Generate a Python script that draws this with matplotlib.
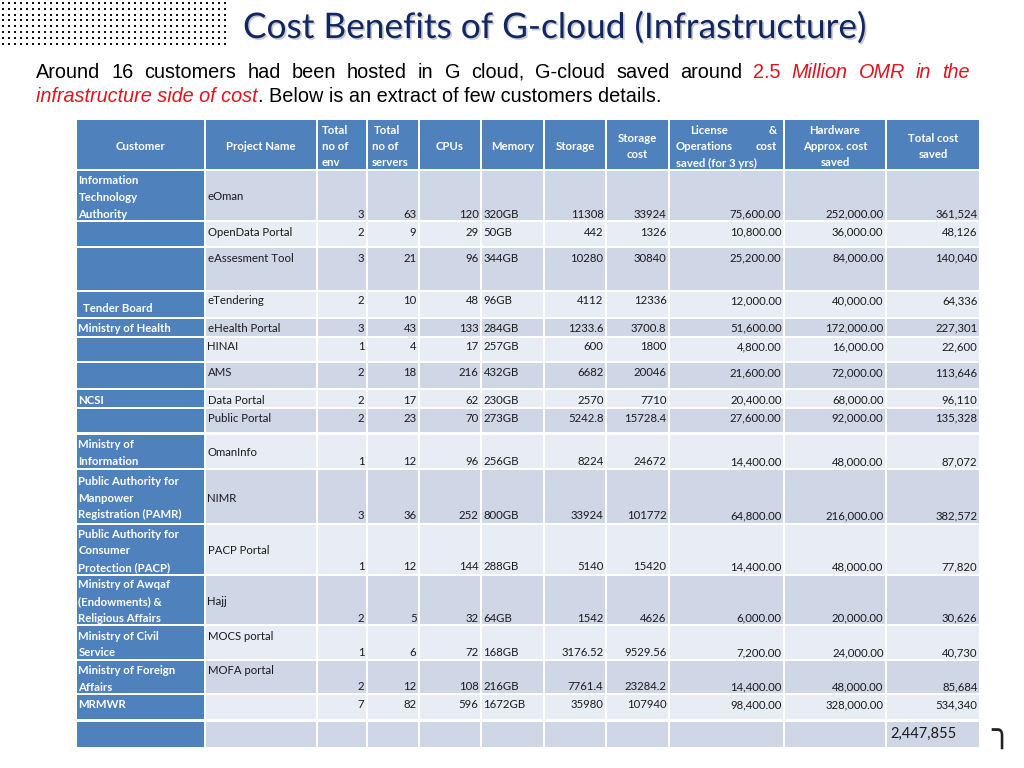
import numpy as np
import matplotlib
matplotlib.use("Agg")
import matplotlib.pyplot as plt
from matplotlib.patches import Rectangle
from matplotlib import patheffects, font_manager

# ---- table data ----
customers = ["Information\nTechnology\nAuthority", "", "", "Tender Board",
             "Ministry of Health", "", "", "NCSI", "",
             "Ministry of\nInformation",
             "Public Authority for\nManpower\nRegistration (PAMR)",
             "Public Authority for\nConsumer\nProtection (PACP)",
             "Ministry of Awqaf\n(Endowments) &\nReligious Affairs",
             "Ministry of Civil\nService",
             "Ministry of Foreign\nAffairs",
             "MRMWR"]
projects = ["eOman", "OpenData Portal", "eAssesment Tool", "eTendering",
            "eHealth Portal", "HINAI", "AMS", "Data Portal", "Public Portal",
            "OmanInfo", "NIMR", "PACP Portal", "Hajj", "MOCS portal",
            "MOFA portal", ""]
total_env = [3, 2, 3, 2, 3, 1, 2, 2, 2, 1, 3, 1, 2, 1, 2, 7]
total_servers = [63, 9, 21, 10, 43, 4, 18, 17, 23, 12, 36, 12, 5, 6, 12, 82]
cpus = [120, 29, 96, 48, 133, 17, 216, 62, 70, 96, 252, 144, 32, 72, 108, 596]
memory_gb = [320, 50, 344, 96, 284, 257, 432, 230, 273, 256, 800, 288, 64, 168, 216, 1672]
storage = [11308, 442, 10280, 4112, 1233.6, 600, 6682, 2570, 5242.8, 8224,
           33924, 5140, 1542, 3176.52, 7761.4, 35980]
storage_cost = [33924, 1326, 30840, 12336, 3700.8, 1800, 20046, 7710, 15728.4,
                24672, 101772, 15420, 4626, 9529.56, 23284.2, 107940]
license_saved = [75600, 10800, 25200, 12000, 51600, 4800, 21600, 20400, 27600,
                 14400, 64800, 14400, 6000, 7200, 14400, 98400]
hardware_saved = [252000, 36000, 84000, 40000, 172000, 16000, 72000, 68000,
                  92000, 48000, 216000, 48000, 20000, 24000, 48000, 328000]
total_saved = [361524, 48126, 140040, 64336, 227301, 22600, 113646, 96110,
               135328, 87072, 382572, 77820, 30626, 40730, 85684, 534340]

headers = ["Customer", "Project Name", "Total\nno of\nenv", "Total\nno of\nservers",
           "CPUs", "Memory", "Storage", "Storage\ncost",
           "License &\nOperations cost\nsaved (for 3 yrs)",
           "Hardware\nApprox. cost\nsaved", "Total cost\nsaved"]

title = "Cost Benefits of G-cloud (Infrastructure)"

# ---- layout (pixels) ----
BLUE = "#4F81BD"
DARK = "#CFD6E6"
LIGHT = "#E8ECF4"
TXT = "#1b1b1b"

col_l = [77, 206, 318, 368, 420, 482, 545, 607, 670, 785, 887]
col_r = [204, 316, 366, 418, 480, 543, 605, 668, 783, 885, 979]
hdr_box = (120, 169)
row_box = [(171, 220), (222, 246), (248, 290), (292, 317), (319, 336), (338, 361),
           (363, 388), (390, 407), (409, 432), (435, 468), (470, 523), (525, 574),
           (576, 624), (626, 659), (661, 693), (695, 719)]
total_box = (722, 747)
num_y = [214, 232, 258, 301, 328, 347, 373, 400, 418, 461.5, 515.5, 567, 618,
         652.5, 686.5, 705]
proj_y = [197, 232, 258, 301, 328, 347, 373, 400, 418, 453, 498, 550.5, 601.5,
          636, 670.5, 705]
cust_y = [181, 232, 258, 308.5, 328, 347, 373, 400, 418, 445, 481.5, 534, 585,
          636, 670.5, 705]
PITCH = 16.6

names = {f.name for f in font_manager.fontManager.ttflist}
TFONT = "Lato" if "Lato" in names else "DejaVu Sans"
NARROW = "Liberation Sans Narrow" if "Liberation Sans Narrow" in names else "Liberation Sans"
FS = 8.2

fig = plt.figure(figsize=(10.24, 7.68), dpi=100)
ax = fig.add_axes([0, 0, 1, 1])
ax.set_xlim(0, 1024)
ax.set_ylim(768, 0)
ax.axis("off")
renderer = fig.canvas.get_renderer()

# dotted decoration top-left
gx, gy = np.meshgrid(np.arange(3, 230, 6), np.arange(3, 48, 5.8))
ax.scatter(gx.ravel(), gy.ravel(), s=3.2, marker="s", c="#111111", linewidths=0)

# title, fitted to its width in the slide
t = ax.text(243, 38, title, fontsize=25, family=TFONT, color="#102763",
            ha="left", va="baseline",
            path_effects=[patheffects.SimplePatchShadow(offset=(1.2, -1.2),
                                                        shadow_rgbFace="#888888", alpha=0.45),
                          patheffects.Normal()])
w = t.get_window_extent(renderer).width
t.set_fontsize(25 * 625 / w)

# subtitle: line 2 sets the font size, line 1 is justified between 36 and 970
RED = "#E0141E"
line2 = [("infrastructure side of cost", RED, "italic"),
         (". Below is an extract of few customers details.", "black", "normal")]
objs2 = [ax.text(0, 101.5, seg, fontsize=13, family=NARROW, color=c, style=st,
                 ha="left", va="baseline") for seg, c, st in line2]
w2 = sum(o.get_window_extent(renderer).width for o in objs2)
SFS = 13 * 622 / w2
x = 36
for o in objs2:
    o.set_fontsize(SFS)
    o.set_x(x)
    x += o.get_window_extent(renderer).width

line1 = [(wd, "black", "normal") for wd in
         "Around 16 customers had been hosted in G cloud, G-cloud saved around".split()]
line1 += [("2.5", RED, "normal")] + [(wd, RED, "italic") for wd in "Million OMR in the".split()]
objs = [ax.text(0, 77.5, wd, fontsize=SFS, family=NARROW, color=c, style=st,
                ha="left", va="baseline") for wd, c, st in line1]
widths = [o.get_window_extent(renderer).width for o in objs]
gap = (970 - 36 - sum(widths)) / (len(objs) - 1)
x = 36
for o, wd in zip(objs, widths):
    o.set_x(x)
    x += wd + gap

# ---- header ----
for j, h in enumerate(headers):
    l, r = col_l[j], col_r[j]
    ax.add_patch(Rectangle((l, hdr_box[0]), r - l, hdr_box[1] - hdr_box[0],
                           facecolor=BLUE, edgecolor="none"))
    lines = h.split("\n")
    ys = {1: [147], 2: [138.5, 155], 3: [130, 146.5, 163]}[len(lines)]
    for k, (ln, yy) in enumerate(zip(lines, ys)):
        kw = dict(fontsize=FS, family=TFONT, weight="bold", color="white", va="center")
        if j in (2, 3):
            ax.text(l + (6 if (j == 3 and k == 0) else 4), yy, ln, ha="left", **kw)
        elif j == 8 and k < 2:
            a, b = ln.rsplit(" ", 1)
            ax.text(l + (20 if k == 0 else 6), yy, a, ha="left", **kw)
            ax.text(r - 6, yy, b, ha="right", **kw)
        elif j == 8:
            ax.text(l + 6, yy, ln, ha="left", **kw)
        else:
            ax.text((l + r) / 2, yy, ln, ha="center", **kw)

# ---- body ----
for i in range(len(projects)):
    top, bot = row_box[i]
    fill = DARK if i % 2 == 0 else LIGHT
    for j in range(len(col_l)):
        ax.add_patch(Rectangle((col_l[j], top), col_r[j] - col_l[j], bot - top,
                               facecolor=BLUE if j == 0 else fill, edgecolor="none"))
    for k, ln in enumerate(customers[i].split("\n")):
        if ln:
            ax.text(83 if ln == "Tender Board" else 78.5, cust_y[i] + k * PITCH, ln,
                    fontsize=FS, family=TFONT, weight="bold", color="white",
                    ha="left", va="center")
    ax.text(207.5, proj_y[i], projects[i], fontsize=FS, family=TFONT, color=TXT,
            ha="left", va="center")
    vals = [str(total_env[i]), str(total_servers[i]), str(cpus[i]),
            f"{memory_gb[i]}GB", f"{storage[i]:g}", f"{storage_cost[i]:g}",
            f"{license_saved[i]:,.2f}", f"{hardware_saved[i]:,.2f}",
            f"{total_saved[i]:,}"]
    for j, v in zip(range(2, 11), vals):
        if j == 5:
            ax.text(col_l[j] + 1.5, num_y[i], v, fontsize=FS, family=TFONT,
                    color=TXT, ha="left", va="center")
        else:
            ax.text(col_r[j] - 1.5, num_y[i], v, fontsize=FS, family=TFONT,
                    color=TXT, ha="right", va="center")

# ---- grand total row ----
top, bot = total_box
for j in range(len(col_l)):
    ax.add_patch(Rectangle((col_l[j], top), col_r[j] - col_l[j], bot - top,
                           facecolor=BLUE if j == 0 else DARK, edgecolor="none"))
ax.text(890.5, 734, f"{sum(total_saved):,}", fontsize=10.5, family=TFONT,
        color=TXT, ha="left", va="center")

ax.text(1001, 733, "\u256e", fontsize=24, family="DejaVu Sans", weight="bold",
        color="#222222", ha="center", va="center")

fig.savefig("out.png", dpi=100)
